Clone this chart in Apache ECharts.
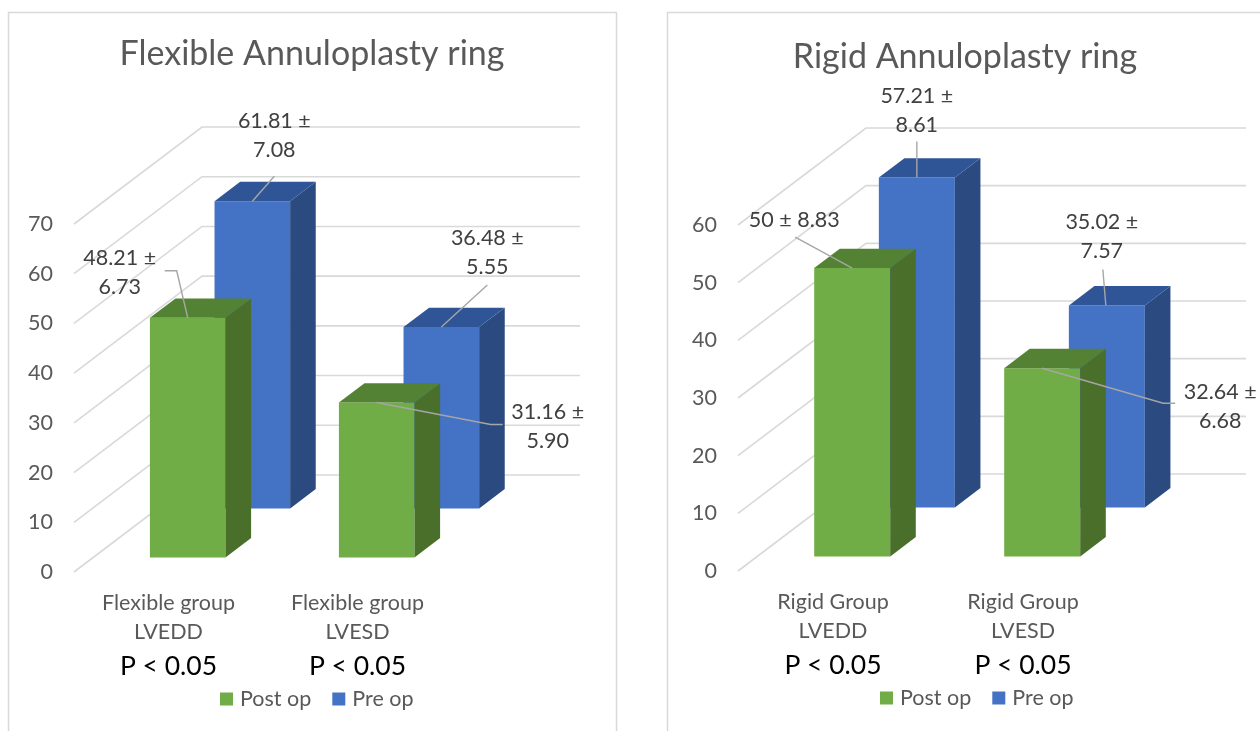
<!DOCTYPE html>
<html>
<head>
<meta charset="utf-8">
<title>Annuloplasty ring – LV dimensions</title>
<script src="https://cdn.jsdelivr.net/npm/echarts@6/dist/echarts.min.js"></script>
<style>
  html, body { margin: 0; padding: 0; background: #ffffff; }
  #chart { width: 1260px; height: 731px; }
</style>
</head>
<body>
<div id="chart"></div>
<script>
// ---- data ----
const flexCategories = ['Flexible group\nLVEDD', 'Flexible group\nLVESD'];
const flexPValues = ['P < 0.05', 'P < 0.05'];
const flexPostMean = [48.21, 31.16];
const flexPostSD = [6.73, 5.90];
const flexPreMean = [61.81, 36.48];
const flexPreSD = [7.08, 5.55];
const flexTicks = [0, 10, 20, 30, 40, 50, 60, 70];

const rigidCategories = ['Rigid Group\nLVEDD', 'Rigid Group\nLVESD'];
const rigidPValues = ['P < 0.05', 'P < 0.05'];
const rigidPostMean = [50, 32.64];
const rigidPostSD = [8.83, 6.68];
const rigidPreMean = [57.21, 35.02];
const rigidPreSD = [8.61, 7.57];
const rigidTicks = [0, 10, 20, 30, 40, 50, 60];

const seriesNames = ['Post op', 'Pre op'];

// ---- look ----
const FONT = 'Lato, "Open Sans", sans-serif';
const LABEL_SIZE = 21.5;
const TEXT_GREY = '#595959';
const GRID_GREY = '#d9d9d9';
const LEADER_GREY = '#a6a6a6';
const DEPTH_VEC = [128, -97];   // pixel shift from the front plane to the back wall
const BAR_RATIO = 0.4;          // column width as a share of the category band
const BAR_DEPTH = 0.2;          // column depth as a share of the floor depth
const GREEN = { front: '#70AD47', side: '#4A6F2B', top: '#548235' };
const BLUE = { front: '#4472C4', side: '#2B4A80', top: '#2F5597' };

// label placement relative to the top-centre of each column's front face
const flexPostLabels = [
  { dx: -68, dy: -45, wrap: true, leader: [[-23, -47], [-11, -47], [0, 0]] },
  { dx: 171, dy: 24, wrap: true, leader: [[0, 0], [114, 22], [126, 22]] }
];
const flexPreLabels = [
  { dx: 22, dy: -66, wrap: true, leader: [[22, -25], [0, 0]] },
  { dx: 46, dy: -75, wrap: true, leader: [[46, -42], [0, 0]] }
];
const rigidPostLabels = [
  { dx: -58, dy: -48, wrap: false, leader: [[-57, -31], [0, 0]] },
  { dx: 178, dy: 38, wrap: true, leader: [[0, 0], [121, 35], [133, 35]] }
];
const rigidPreLabels = [
  { dx: 0, dy: -67, wrap: true, leader: [[0, -36], [0, 0]] },
  { dx: -5, dy: -69, wrap: true, leader: [[-4, -36], [-1, 0]] }
];

function project(x, y, d) {
  return [x + DEPTH_VEC[0] * d, y + DEPTH_VEC[1] * d];
}

// back wall + side wall gridlines for every tick value
function wallRenderer(params, api) {
  const cs = params.coordSys;
  const y = api.coord([0, api.value(1)])[1];
  const left = cs.x, right = cs.x + cs.width;
  const p0 = [left, y];
  const p1 = project(left, y, 1);
  const p2 = project(right, y, 1);
  return {
    type: 'polyline',
    shape: { points: [p0, p1, p2] },
    style: { stroke: GRID_GREY, lineWidth: 1.6, fill: null },
    silent: true
  };
}

function barRenderer(colors, depth, means, sds, labels) {
  return function (params, api) {
    const i = params.dataIndex;
    const cat = api.value(0), val = api.value(1);
    const top = api.coord([cat, val]);
    const base = api.coord([cat, 0]);
    const hw = api.size([1, 0])[0] * BAR_RATIO / 2;
    const d0 = depth, d1 = depth + BAR_DEPTH;
    const xl = top[0] - hw, xr = top[0] + hw;
    const yt = top[1], yb = base[1];
    const front = [project(xl, yt, d0), project(xr, yt, d0), project(xr, yb, d0), project(xl, yb, d0)];
    const side = [project(xr, yt, d0), project(xr, yt, d1), project(xr, yb, d1), project(xr, yb, d0)];
    const roof = [project(xl, yt, d0), project(xr, yt, d0), project(xr, yt, d1), project(xl, yt, d1)];
    const anchor = project(top[0], yt, d0);
    const lab = labels[i];
    const text = String(means[i]) + ' ±' + (lab.wrap ? '\n' : ' ') + sds[i].toFixed(2);
    return {
      type: 'group',
      children: [
        { type: 'polygon', shape: { points: front }, style: { fill: colors.front } },
        { type: 'polygon', shape: { points: side }, style: { fill: colors.side } },
        { type: 'polygon', shape: { points: roof }, style: { fill: colors.top } },
        {
          type: 'polyline',
          shape: { points: lab.leader.map(p => [anchor[0] + p[0], anchor[1] + p[1]]) },
          style: { stroke: LEADER_GREY, lineWidth: 1.4, fill: null },
          z2: 10
        },
        {
          type: 'text',
          x: anchor[0] + lab.dx,
          y: anchor[1] + lab.dy,
          style: {
            text: text,
            fill: '#404040',
            fontSize: LABEL_SIZE,
            fontFamily: FONT,
            lineHeight: 29,
            align: 'center',
            verticalAlign: 'middle'
          },
          z2: 11
        }
      ]
    };
  };
}

function categoryFormatter(pValues) {
  return function (value, idx) {
    const lines = String(value).split('\n').map(s => '{c|' + s + '}');
    return lines.join('\n') + '\n{p|' + pValues[idx] + '}';
  };
}

function xAxisFor(gridIndex, categories, pValues) {
  return {
    type: 'category',
    gridIndex: gridIndex,
    data: categories,
    axisLine: { show: false },
    axisTick: { show: false },
    splitLine: { show: false },
    axisLabel: {
      interval: 0,
      margin: 17,
      formatter: categoryFormatter(pValues),
      rich: {
        c: { fontSize: LABEL_SIZE, lineHeight: 29, color: TEXT_GREY, fontFamily: FONT },
        p: { fontSize: 26.5, lineHeight: 38, color: '#000000', fontFamily: FONT }
      }
    }
  };
}

function yAxisFor(gridIndex, ticks) {
  return {
    type: 'value',
    gridIndex: gridIndex,
    min: ticks[0],
    max: ticks[ticks.length - 1],
    interval: ticks[1] - ticks[0],
    axisLine: { show: false },
    axisTick: { show: false },
    splitLine: { show: false },
    axisLabel: { margin: 21, fontSize: LABEL_SIZE, color: TEXT_GREY, fontFamily: FONT }
  };
}

const pairs = (arr) => arr.map((v, i) => [i, v]);

const legendBase = {
  padding: 0, itemWidth: 13, itemHeight: 13, itemGap: 21,
  icon: 'rect', data: seriesNames, selectedMode: false,
  textStyle: { fontSize: LABEL_SIZE, color: TEXT_GREY, fontFamily: FONT, padding: [0, 0, 0, 2] }
};

const option = {
  backgroundColor: '#ffffff',
  animation: false,
  title: [
    {
      text: 'Flexible Annuloplasty ring',
      left: 312, top: 37, textAlign: 'center', padding: 0,
      textStyle: { fontSize: 34, fontWeight: 'normal', color: TEXT_GREY, fontFamily: FONT }
    },
    {
      text: 'Rigid Annuloplasty ring',
      left: 965, top: 40, textAlign: 'center', padding: 0,
      textStyle: { fontSize: 34, fontWeight: 'normal', color: TEXT_GREY, fontFamily: FONT }
    }
  ],
  legend: [
    Object.assign({ left: 220, top: 688 }, legendBase),
    Object.assign({ left: 880, top: 687 }, legendBase)
  ],
  grid: [
    { left: 74, top: 224, width: 378, height: 348 },
    { left: 738, top: 225, width: 380, height: 346 }
  ],
  xAxis: [xAxisFor(0, flexCategories, flexPValues), xAxisFor(1, rigidCategories, rigidPValues)],
  yAxis: [yAxisFor(0, flexTicks), yAxisFor(1, rigidTicks)],
  graphic: [
    { type: 'rect', shape: { x: 8.5, y: 12.5, width: 608, height: 740 }, style: { fill: null, stroke: GRID_GREY, lineWidth: 1.5 }, silent: true, z: -10 },
    { type: 'rect', shape: { x: 667.5, y: 12.5, width: 620, height: 740 }, style: { fill: null, stroke: GRID_GREY, lineWidth: 1.5 }, silent: true, z: -10 }
  ],
  series: [
    // Flexible panel
    { type: 'custom', name: 'wall', xAxisIndex: 0, yAxisIndex: 0, renderItem: wallRenderer,
      data: flexTicks.map(v => [0, v]), silent: true, z: 1 },
    { type: 'custom', name: 'Pre op', xAxisIndex: 0, yAxisIndex: 0, itemStyle: { color: BLUE.front },
      renderItem: barRenderer(BLUE, 0.655, flexPreMean, flexPreSD, flexPreLabels),
      data: pairs(flexPreMean), z: 2 },
    { type: 'custom', name: 'Post op', xAxisIndex: 0, yAxisIndex: 0, itemStyle: { color: GREEN.front },
      renderItem: barRenderer(GREEN, 0.15, flexPostMean, flexPostSD, flexPostLabels),
      data: pairs(flexPostMean), z: 3 },
    // Rigid panel
    { type: 'custom', name: 'wall', xAxisIndex: 1, yAxisIndex: 1, renderItem: wallRenderer,
      data: rigidTicks.map(v => [0, v]), silent: true, z: 1 },
    { type: 'custom', name: 'Pre op', xAxisIndex: 1, yAxisIndex: 1, itemStyle: { color: BLUE.front },
      renderItem: barRenderer(BLUE, 0.655, rigidPreMean, rigidPreSD, rigidPreLabels),
      data: pairs(rigidPreMean), z: 2 },
    { type: 'custom', name: 'Post op', xAxisIndex: 1, yAxisIndex: 1, itemStyle: { color: GREEN.front },
      renderItem: barRenderer(GREEN, 0.15, rigidPostMean, rigidPostSD, rigidPostLabels),
      data: pairs(rigidPostMean), z: 3 }
  ]
};

const chart = echarts.init(document.getElementById('chart'), null, { renderer: 'canvas' });
chart.setOption(option);
</script>
</body>
</html>
